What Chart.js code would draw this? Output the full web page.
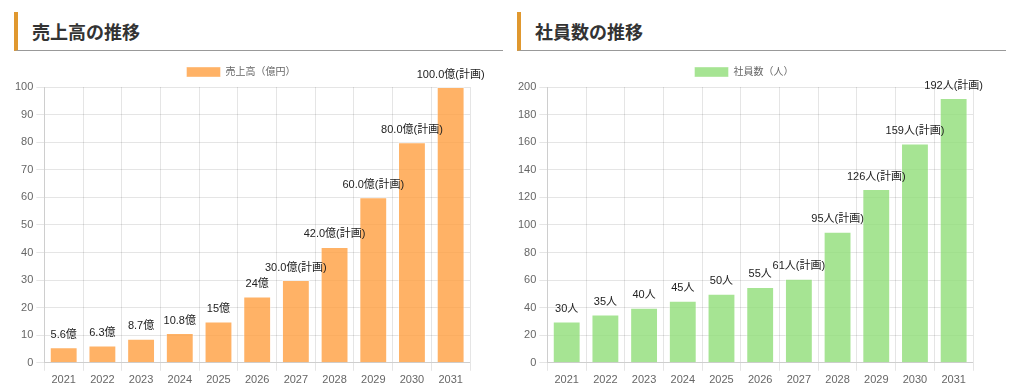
<!DOCTYPE html>
<html>
<head>
    <meta charset="UTF-8">
    <title>売上高・社員数の推移</title>
    <style>
        body {
            margin: 0;
            background: #fff;
            font-family: 'Liberation Sans', 'Noto Sans CJK JP', sans-serif;
        }

        .panel {
            position: absolute;
            top: 0;
            width: 503px;
            height: 390px;
        }

        .heading {
            position: absolute;
            left: 14px;
            top: 12px;
            height: 39px;
            border-left: 4px solid #e0982f;
            border-bottom: 1px solid #999;
            font-family: 'Noto Sans CJK JP', sans-serif;
            font-weight: bold;
            font-size: 18px;
            line-height: 38px;
            color: #333;
            padding-left: 14px;
            box-sizing: border-box;
            width: 489px;
        }

        .chart-box {
            position: absolute;
            left: 2px;
            top: 56px;
            width: 486px;
            height: 334px;
        }
    </style>
    <script src="https://cdn.jsdelivr.net/npm/chart.js"></script>
</head>
<body>
    <div class="panel" style="left:0">
        <div class="heading">売上高の推移</div>
        <div class="chart-box"><canvas id="uriage"></canvas></div>
    </div>
    <div class="panel" style="left:503px">
        <div class="heading">社員数の推移</div>
        <div class="chart-box"><canvas id="shain"></canvas></div>
    </div>

    <script>
        var years = ['2021', '2022', '2023', '2024', '2025', '2026', '2027', '2028', '2029', '2030', '2031'];

        var uriage = [5.6, 6.3, 8.7, 10.8, 15, 24, 30, 42, 60, 80, 100];
        var uriageLabels = ['5.6億', '6.3億', '8.7億', '10.8億', '15億', '24億', '30.0億(計画)', '42.0億(計画)', '60.0億(計画)', '80.0億(計画)', '100.0億(計画)'];

        var shain = [30, 35, 40, 45, 50, 55, 61, 95, 126, 159, 192];
        var shainLabels = ['30人', '35人', '40人', '45人', '50人', '55人', '61人(計画)', '95人(計画)', '126人(計画)', '159人(計画)', '192人(計画)'];

        var fontFamily = "'Liberation Sans', 'Noto Sans CJK JP', sans-serif";

        // 棒の上に値を書く
        var barLabels = {
            id: 'barLabels',
            afterDatasetsDraw: function (chart) {
                var ctx = chart.ctx;
                var meta = chart.getDatasetMeta(0);
                var texts = chart.options.plugins.barLabels.texts;
                ctx.save();
                ctx.font = '11px ' + fontFamily;
                ctx.fillStyle = '#222';
                ctx.textAlign = 'center';
                ctx.textBaseline = 'bottom';
                meta.data.forEach(function (bar, i) {
                    ctx.fillText(texts[i], bar.x, bar.y - 7);
                });
                ctx.restore();
            }
        };

        function makeChart(id, label, data, texts, color, max, step) {
            new Chart(document.getElementById(id), {
                type: 'bar',
                data: {
                    labels: years,
                    datasets: [{
                        label: label,
                        data: data,
                        backgroundColor: color,
                        borderColor: 'rgba(255,255,255,0.4)',
                        borderWidth: 1
                    }]
                },
                options: {
                    responsive: true,
                    maintainAspectRatio: false,
                    animation: false,
                    layout: { padding: { left: 10, right: 18, top: 1, bottom: 0 } },
                    plugins: {
                        legend: {
                            labels: {
                                boxWidth: 34,
                                boxHeight: 10,
                                color: '#666',
                                font: { size: 10, family: fontFamily }
                            }
                        },
                        tooltip: { enabled: false },
                        barLabels: { texts: texts }
                    },
                    scales: {
                        x: {
                            ticks: { color: '#666', font: { size: 11, family: fontFamily } }
                        },
                        y: {
                            beginAtZero: true,
                            max: max,
                            ticks: { stepSize: step, color: '#666', font: { size: 11, family: fontFamily } }
                        }
                    }
                },
                plugins: [barLabels]
            });
        }

        makeChart('uriage', '売上高（億円）', uriage, uriageLabels, 'rgba(255,159,64,0.8)', 100, 10);
        makeChart('shain', '社員数（人）', shain, shainLabels, 'rgba(144,221,120,0.8)', 200, 20);
    </script>
</body>
</html>
